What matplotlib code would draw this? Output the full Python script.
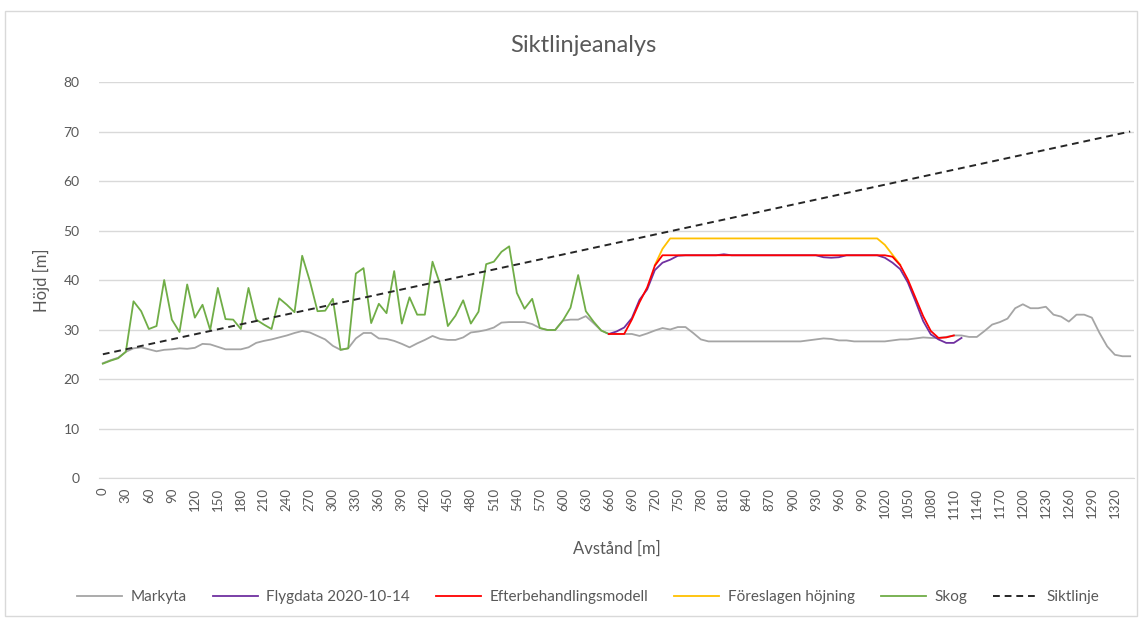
import numpy as np
import matplotlib.pyplot as plt
from matplotlib.patches import Rectangle

plt.rcParams['font.family'] = ['Lato', 'DejaVu Sans']

# avstånd i meter, en kategori per 10 m
avstand = np.arange(0, 1350, 10)
nan = np.nan

markyta = [
    23.2, 23.8, 24.3, 25.5, 26.2, 26.4, 26.0, 25.6, 25.9, 26.0,
    26.2, 26.1, 26.3, 27.1, 27.0, 26.5, 26.0, 26.0, 26.0, 26.4,
    27.3, 27.7, 28.0, 28.4, 28.8, 29.3, 29.7, 29.4, 28.7, 28.0,
    26.7, 25.9, 26.2, 28.2, 29.3, 29.3, 28.2, 28.1, 27.7, 27.1,
    26.4, 27.2, 27.9, 28.7, 28.1, 27.9, 27.9, 28.4, 29.4, 29.6,
    29.9, 30.4, 31.4, 31.5, 31.5, 31.5, 31.1, 30.3, 29.9, 29.9,
    31.8, 32.0, 32.0, 32.7, 31.3, 29.8, 29.1, 29.1, 29.1, 29.1,
    28.7, 29.2, 29.8, 30.3, 30.0, 30.5, 30.5, 29.3, 28.0, 27.6,
    27.6, 27.6, 27.6, 27.6, 27.6, 27.6, 27.6, 27.6, 27.6, 27.6,
    27.6, 27.6, 27.8, 28.0, 28.2, 28.1, 27.8, 27.8, 27.6, 27.6,
    27.6, 27.6, 27.6, 27.8, 28.0, 28.0, 28.2, 28.4, 28.3, 28.3,
    28.5, 28.8, 28.8, 28.5, 28.5, 29.7, 31.0, 31.5, 32.2, 34.3,
    35.1, 34.3, 34.3, 34.6, 33.0, 32.6, 31.6, 33.0, 33.0, 32.4,
    29.3, 26.6, 24.9, 24.6, 24.6,
]

skog = [
    23.1, 23.7, 24.2, 25.5, 35.7, 33.7, 30.1, 30.7, 40.0, 32.0,
    29.5, 39.1, 32.4, 35.0, 29.9, 38.4, 32.1, 32.0, 30.1, 38.4,
    32.0, 31.0, 30.1, 36.3, 35.0, 33.5, 44.9, 39.8, 33.7, 33.8,
    36.2, 25.9, 26.2, 41.3, 42.4, 31.3, 35.2, 33.3, 41.8, 31.2,
    36.5, 33.0, 33.0, 43.7, 39.1, 30.7, 32.8, 35.9, 31.2, 33.6,
    43.2, 43.7, 45.7, 46.8, 37.4, 34.2, 36.2, 30.3, 29.9, 29.9,
    31.8, 34.4, 41.0, 33.7, 31.6, 29.8, 29.1,
] + [nan] * 68

flygdata = [nan] * 66 + [
    29.1, 29.6, 30.4, 32.3, 36.0, 38.1, 42.0, 43.5, 44.1, 44.9,
    45.0, 45.0, 45.0, 45.0, 45.0, 45.2, 45.0, 45.0, 45.0, 45.0,
    45.0, 45.0, 45.0, 45.0, 45.0, 45.0, 45.0, 45.0, 44.6, 44.5,
    44.6, 45.0, 45.0, 45.0, 45.0, 45.0, 44.5, 43.5, 42.2, 39.5,
    35.7, 31.7, 29.0, 28.0, 27.3, 27.3, 28.3,
] + [nan] * 22

efterbehandling = [nan] * 66 + [
    29.1, 29.1, 29.1, 32.0, 35.5, 38.5, 42.9,
] + [45.0] * 30 + [
    44.7, 43.0, 40.1, 36.4, 32.7, 29.7, 28.3, 28.4, 28.8,
] + [nan] * 23

hojning = [nan] * 72 + [43.0, 46.3] + [48.4] * 28 + [47.1, 45.1, 43.1] + [nan] * 30

sikt_x = [0, 1340]
sikt_y = [25, 70]

txt = '#595959'
grid = '#D9D9D9'

fig = plt.figure(figsize=(11.42, 6.18), dpi=100)
ax = fig.add_axes([0.0867, 0.2265, 0.9063, 0.6408])

ax.plot(avstand, markyta, color='#A5A5A5', lw=1.3, label='Markyta', zorder=3)
ax.plot(avstand, flygdata, color='#7030A0', lw=1.3, label='Flygdata 2020-10-14', zorder=5)
ax.plot(avstand, efterbehandling, color='#FF0000', lw=1.3, label='Efterbehandlingsmodell', zorder=6)
ax.plot(avstand, hojning, color='#FFC000', lw=1.3, label='Föreslagen höjning', zorder=4)
ax.plot(avstand, skog, color='#70AD47', lw=1.3, label='Skog', zorder=4)
ax.plot(sikt_x, sikt_y, color='#262626', lw=1.4, ls=(0, (3.5, 2.5)), label='Siktlinje', zorder=7)

ax.set_xlim(-5, 1345)
ax.set_ylim(0, 80)
ax.set_yticks(range(0, 81, 10))
ax.set_xticks(avstand[::3])
ax.set_xticklabels([str(v) for v in avstand[::3]], rotation=90)
ax.tick_params(axis='both', length=0, colors=txt)
ax.tick_params(axis='x', pad=7, labelsize=9.5)
ax.tick_params(axis='y', pad=14, labelsize=10)
ax.grid(axis='y', color=grid, lw=1)
ax.set_axisbelow(True)
for s in ['top', 'right', 'left']:
    ax.spines[s].set_visible(False)
ax.spines['bottom'].set_color(grid)

ax.set_xlabel('Avstånd [m]', color=txt, fontsize=12, labelpad=16)
ax.set_ylabel('Höjd [m]', color=txt, fontsize=12, labelpad=10)
fig.text(0.511, 0.927, 'Siktlinjeanalys', ha='center', va='center', color=txt, fontsize=17)

ax.legend(loc='center', bbox_to_anchor=(0.515, 0.034), bbox_transform=fig.transFigure,
          ncol=6, frameon=False, fontsize=11, labelcolor=txt, handlelength=2.95,
          columnspacing=1.7, handletextpad=0.55)

fig.patches.append(Rectangle((0.004, 0.004), 0.992, 0.979, transform=fig.transFigure,
                             fill=False, edgecolor=grid, lw=1))

fig.savefig('out.png', dpi=100)
